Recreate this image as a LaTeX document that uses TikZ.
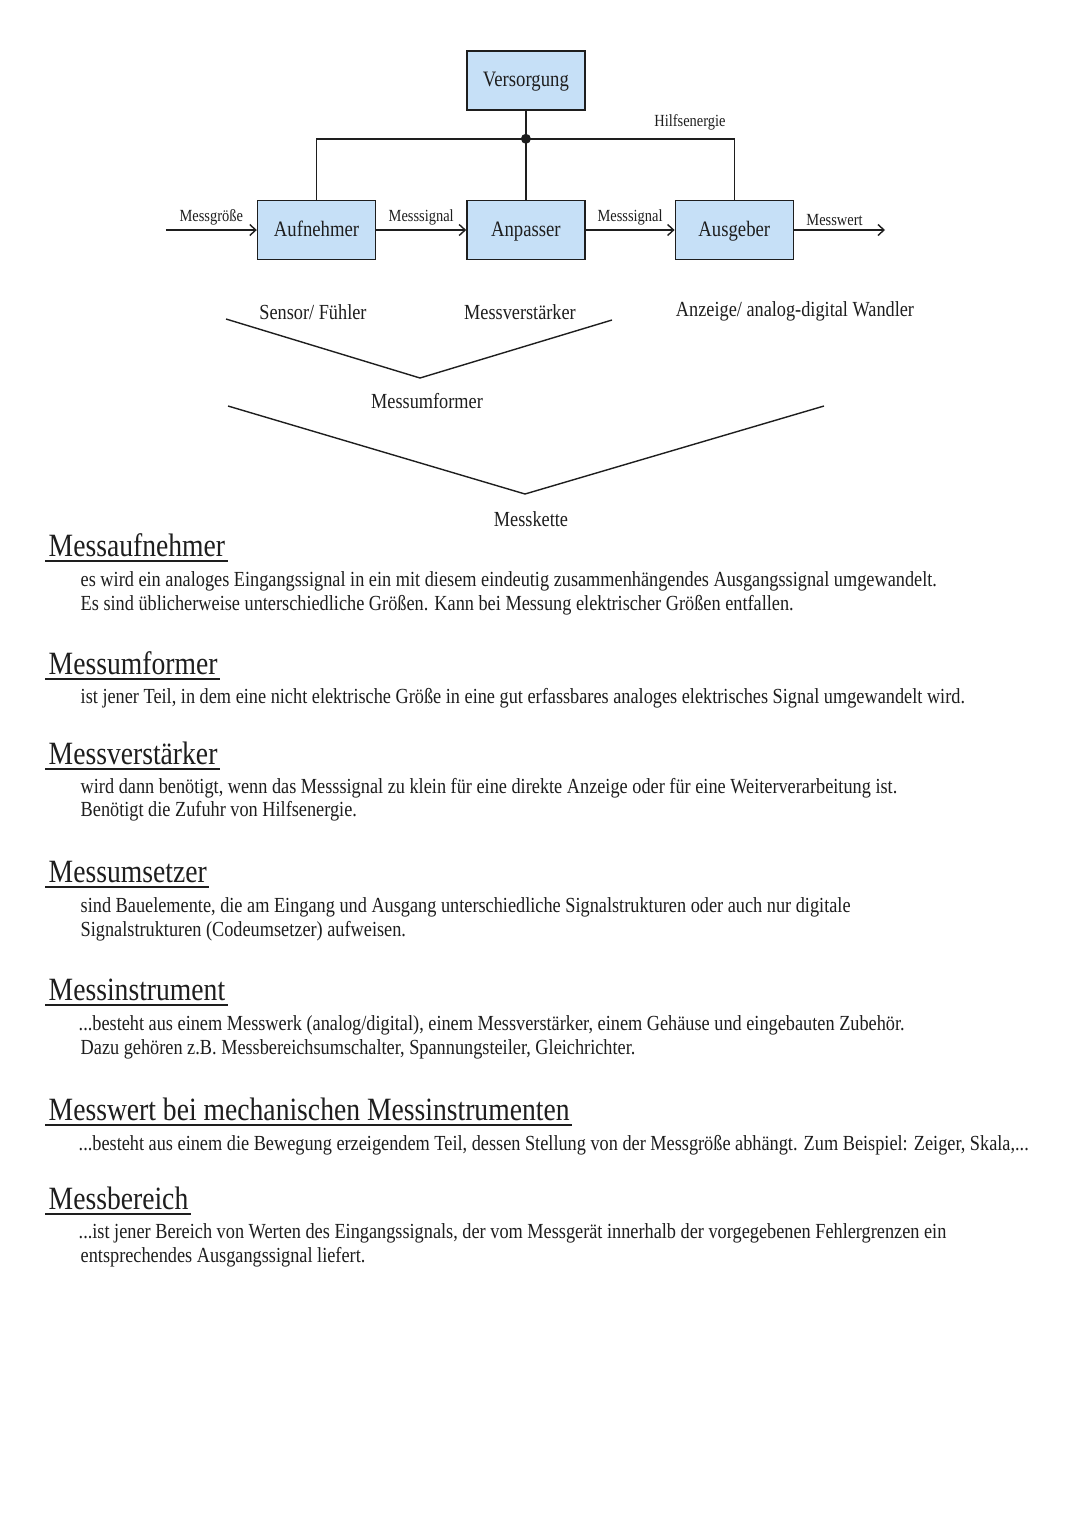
\documentclass[tikz,border=0pt]{standalone}
\usepackage{fontspec}
\setmainfont{Liberation Serif}[FakeStretch=0.85]
\usetikzlibrary{arrows.meta,positioning}

\definecolor{boxblue}{HTML}{C6E0F7}
\definecolor{ink}{HTML}{1E1E1E}

\tikzset{
	blk/.style={draw=ink,fill=boxblue,line width=1.4pt,minimum width=118pt,minimum height=59pt,inner sep=0pt,text height=16pt,text depth=4pt,font=\fontsize{22}{24}\selectfont},
	lbl/.style={inner sep=0pt,font=\fontsize{17}{20}\selectfont},
	tag/.style={inner sep=0pt,font=\fontsize{21.5}{24}\selectfont},
	head/.style={anchor=base west,inner sep=0pt,font=\fontsize{32.5}{36}\selectfont},
	body/.style={anchor=base west,inner sep=0pt,font=\fontsize{21.5}{24}\selectfont},
	uline/.style={line width=1.8pt},
}

\begin{document}
\begin{tikzpicture}[x=1pt,y=-1pt,>={Straight Barb[length=6pt,width=11pt]},line width=1.4pt,color=ink,node distance=89pt]
	\useasboundingbox[fill=white] (0,0) rectangle (1080,1527);

	% block diagram
	\node[blk] (aufn) at (316.5,230) {Aufnehmer};
	\node[blk] (anp) [right=90pt of aufn] {Anpasser};
	\node[blk] (ausg) [right=of anp] {Ausgeber};
	\node[blk] (vers) [above=of anp] {Versorgung};
	\coordinate (hub) at ([yshift=-28pt]vers.south);
	\coordinate (in) at ([xshift=-91pt]aufn.west);
	\coordinate (out) at ([xshift=91pt]ausg.east);

	\draw (vers) -- (anp);
	\draw (aufn.north) |- (hub) -| (ausg.north);
	\fill (hub) circle (5);
	\node[lbl] (hilfe) at (690,122) {Hilfsenergie};

	\path[->] (in) edge node[lbl,above=4pt] {Messgröße} (aufn)
	(aufn) edge node[lbl,above=4pt] {Messsignal} (anp)
	(anp) edge node[lbl,above=4pt] {Messsignal} (ausg)
	(ausg) edge node[lbl,above=4pt,xshift=-5pt] {Messwert} (out);

	% Messumformer / Messkette
	\node[tag] (sensor) at (313,312) {Sensor/ Fühler};
	\node[tag] (verst) at (520,312) {Messverstärker};
	\node[tag] (anz) at (795,311) {Anzeige/ analog-digital Wandler};
	\draw (226,319) -- (420,378) -- (612,320);
	\node[tag] (umf) at (427,401) {Messumformer};
	\draw (228,406) -- (525,494) -- (824,406);
	\node[tag] (kette) at (531,519) {Messkette};

	% Begriffe
	\foreach \nm/\y/\txt in {h1/556/Messaufnehmer,h2/674/Messumformer,h3/764/Messverstärker,h4/882/Messumsetzer,h5/1000/Messinstrument,h6/1120/Messwert bei mechanischen Messinstrumenten,h7/1209/Messbereich}{
		\node[head] (\nm) at (48,\y) {\txt};
		\draw[uline] ([shift={(-3,5)}]\nm.base west) -- ([shift={(2,5)}]\nm.base east);
	}

	\node[body] (t1a) at (80,586) {es wird ein analoges Eingangssignal in ein mit diesem eindeutig zusammenhängendes Ausgangssignal umgewandelt.};
	\node[body] (t1b) at (80,610) {Es sind üblicherweise unterschiedliche Größen. Kann bei Messung elektrischer Größen entfallen.};
	\node[body] (t2a) at (80,703) {ist jener Teil, in dem eine nicht elektrische Größe in eine gut erfassbares analoges elektrisches Signal umgewandelt wird.};
	\node[body] (t3a) at (80,793) {wird dann benötigt, wenn das Messsignal zu klein für eine direkte Anzeige oder für eine Weiterverarbeitung ist.};
	\node[body] (t3b) at (80,816) {Benötigt die Zufuhr von Hilfsenergie.};
	\node[body] (t4a) at (80,912) {sind Bauelemente, die am Eingang und Ausgang unterschiedliche Signalstrukturen oder auch nur digitale};
	\node[body] (t4b) at (80,936) {Signalstrukturen (Codeumsetzer) aufweisen.};
	\node[body] (t5a) at (78,1030) {...besteht aus einem Messwerk (analog/digital), einem Messverstärker, einem Gehäuse und eingebauten Zubehör.};
	\node[body] (t5b) at (80,1054) {Dazu gehören z.B. Messbereichsumschalter, Spannungsteiler, Gleichrichter.};
	\node[body] (t6a) at (78,1150) {...besteht aus einem die Bewegung erzeigendem Teil, dessen Stellung von der Messgröße abhängt. Zum Beispiel: Zeiger, Skala,...};
	\node[body] (t7a) at (78,1238) {...ist jener Bereich von Werten des Eingangssignals, der vom Messgerät innerhalb der vorgegebenen Fehlergrenzen ein};
	\node[body] (t7b) at (80,1262) {entsprechendes Ausgangssignal liefert.};
\end{tikzpicture}
\end{document}
